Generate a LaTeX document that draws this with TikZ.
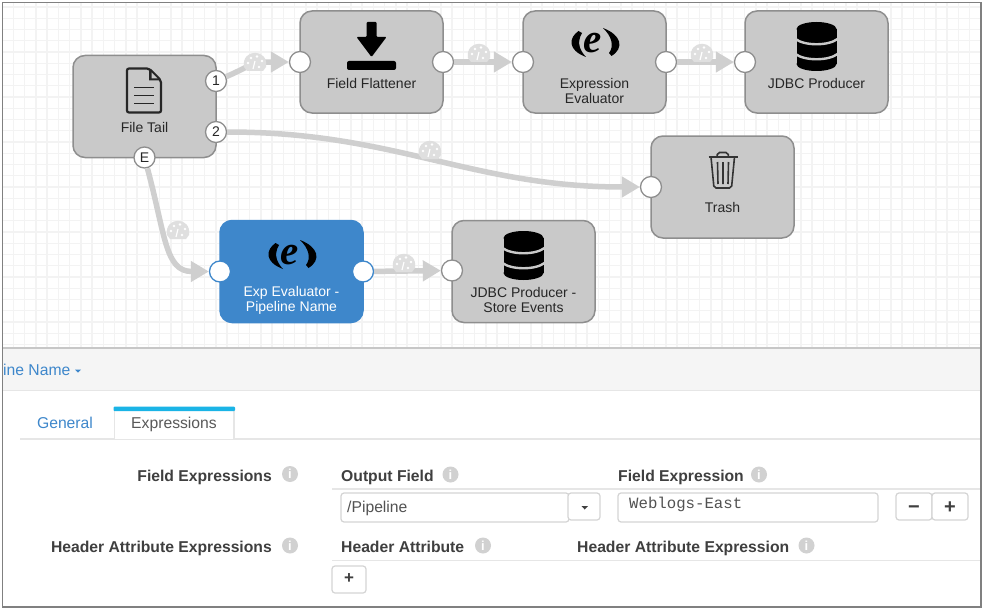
\documentclass[tikz,border=0pt]{standalone}
\usepackage{fontspec}
\setmainfont{Liberation Sans}
\newfontfamily\codefont{Liberation Mono}
\newfontfamily\logofont{Liberation Serif}
\usepackage{xcolor}
\usepackage{tikz}
\usetikzlibrary{positioning,arrows.meta}
\definecolor{stagegray}{HTML}{C9C9C9}
\definecolor{stageline}{HTML}{8E8E8E}
\definecolor{linkgray}{HTML}{CFCFCF}
\definecolor{gaugegray}{HTML}{DFDFDF}
\definecolor{selblue}{HTML}{3E87CB}
\definecolor{tabcyan}{HTML}{1AB4E6}
\definecolor{gridgray}{HTML}{F3F3F3}
\definecolor{rulegray}{HTML}{E6E6E6}
\definecolor{bandgray}{HTML}{F5F5F5}
\definecolor{inkgray}{HTML}{3F3F3F}
\definecolor{fieldline}{HTML}{D4D4D4}
\newcommand{\stagefont}{\fontsize{14}{15}\selectfont}
\newcommand{\formfont}{\fontsize{15.7}{17}\selectfont}
\tikzset{
  docicon/.pic={
    \draw[line width=2.2,rounded corners=2,draw=black!85] (-17,-22) -- (5,-22) -- (17,-10) -- (17,22) -- (-17,22) -- cycle;
    \fill[black!85] (5,-22) -- (17,-10) -- (5,-10) -- cycle;
    \fill[stagegray] (7.5,-18) -- (13.5,-12) -- (7.5,-12) -- cycle;
    \draw[line width=1.8,draw=black!85] (-10,-3) -- (10,-3) (-10,5) -- (10,5) (-10,13) -- (10,13);
  },
  downicon/.pic={
    \fill[rounded corners=1] (-5,-24) -- (5,-24) -- (5,-9) -- (15,-9) -- (0,11) -- (-15,-9) -- (-5,-9) -- cycle;
    \fill[rounded corners=2] (-24.5,15) rectangle (24.5,24);
  },
  dbicon/.pic={
    \fill (0,-17) ellipse[x radius=20,y radius=7];
    \fill (0,18) ellipse[x radius=20,y radius=7];
    \fill (-20,-17) rectangle (20,18);
    \draw[line width=2.4,draw=stagegray] (-21,-7) .. controls (-12,0) and (12,0) .. (21,-7);
    \draw[line width=2.4,draw=stagegray] (-21,8) .. controls (-12,15) and (12,15) .. (21,8);
  },
  trashicon/.pic={
    \draw[line width=1.6,draw=black!80,line join=round] (-14,-14) -- (15,-14);
    \draw[line width=1.6,draw=black!80,rounded corners=2] (-5.5,-14) -- (-5,-18.5) -- (5.5,-18.5) -- (6,-14);
    \draw[line width=1.6,draw=black!80,rounded corners=2] (-11.5,-14) -- (-8.5,17) -- (9,17) -- (12,-14);
    \draw[line width=1.6,draw=black!80] (-5,-9) -- (-4.5,13) (.5,-9) -- (.5,13) (6,-9) -- (5.5,13);
  },
  evalicon/.pic={
    \fill (-16,-13) .. controls (-26,-6) and (-27,6) .. (-8.5,13) .. controls (-13,8) and (-19,0) .. (-12.5,-11) -- cycle;
    \fill (8.5,-16) .. controls (27,-9) and (30,4) .. (17,12) -- (14.5,9) .. controls (20,2) and (17,-8) .. cycle;
    \node[font=\logofont\bfseries\itshape\fontsize{41}{41}\selectfont,inner sep=0] (letter) at (-1.5,-1) {e};
  },
  gaugeicon/.pic={
    \fill[gaugegray] (-11,4) .. controls (-14,-15) and (14,-15) .. (11,4) -- (8,8) -- (-8,8) -- cycle;
    \fill[white] (-7,0) circle[radius=1.4] (-4,-5) circle[radius=1.4] (2,-6.5) circle[radius=1.4] (7,-2) circle[radius=1.4] (4,4) circle[radius=1.4];
    \draw[white,line width=1.2] (-2,6) -- (0,-2);
  },
}
\begin{document}
\begin{tikzpicture}[x=1pt,y=-1pt,line cap=butt,node distance=80pt and 80pt]
\tikzstyle{stage}=[draw=stageline,fill=stagegray,line width=1.5,rounded corners=12,minimum width=143pt,minimum height=102pt,outer sep=0pt,inner sep=0pt]
\tikzstyle{selstage}=[stage,draw=selblue,fill=selblue]
\tikzstyle{stagetext}=[font=\stagefont,align=center,text=black!85,inner sep=0pt]
\tikzstyle{port}=[circle,draw=stageline,fill=white,line width=1.3,minimum size=21pt,inner sep=0pt,font=\stagefont,text=black!85]
\tikzstyle{selport}=[port,draw=selblue]
\tikzstyle{link}=[draw=linkgray,line width=5.5,-{Triangle[length=18pt,width=20pt]}]
\tikzstyle{gridline}=[draw=gridgray,line width=1.4]
\tikzstyle{formtext}=[font=\formfont,inner sep=0pt,text height=11.3pt,text depth=3.3pt]
\tikzstyle{formbold}=[formtext,font=\formfont\bfseries,text=inkgray]
\tikzstyle{infoicon}=[circle,fill=black!18,text=white,minimum size=16pt,inner sep=0pt,font=\fontsize{13}{13}\selectfont\bfseries]
\tikzstyle{field}=[draw=fieldline,line width=1.2,rounded corners=3,fill=white,inner sep=0pt,outer sep=0pt]
\tikzstyle{btnsign}=[font=\fontsize{20}{20}\selectfont\bfseries,text=inkgray,text height=14pt,text depth=0pt]
\tikzstyle{rule}=[draw=rulegray,line width=1.4]
\useasboundingbox (0,0) rectangle (983,610);
\fill[white] (0,0) rectangle (983,610);
% canvas grid
\foreach \gx in {13.3,24.55,...,981} \draw[gridline] (\gx,3) -- (\gx,348);
\foreach \gy in {7,18.25,...,348} \draw[gridline] (3,\gy) -- (981,\gy);
% stages
\node[stage] (ft) at (144.5,106.5) {};
\node[stage] (ff) at (371.5,62) {};
\node[stage,right=of ff] (ee) {};
\node[stage,right=79pt of ee] (jp) {};
\node[stage] (tr) at (722.5,187) {};
\node[selstage] (xe) at (291.5,271.5) {};
\node[stage,right=89pt of xe] (js) {};
% icons
\pic at (144,90.5) {docicon};
\pic at (371.5,46) {downicon};
\pic (eelogo) at (594.5,44) {evalicon};
\pic at (816.5,46) {dbicon};
\pic at (722.5,171) {trashicon};
\pic (xelogo) at (291.5,256) {evalicon};
\pic at (523.5,255) {dbicon};
% labels
\node[stagetext] (ftlabel) at ([yshift=-20.5pt]ft.center) {File Tail};
\node[stagetext] (fflabel) at ([yshift=-21pt]ff.center) {Field Flattener};
\node[stagetext] (eelabel) at ([yshift=-28.5pt]ee.center) {Expression\\Evaluator};
\node[stagetext] (jplabel) at ([yshift=-21pt]jp.center) {JDBC Producer};
\node[stagetext] (trlabel) at ([yshift=-20pt]tr.center) {Trash};
\node[stagetext,text=white] (xelabel) at ([yshift=-28.5pt]xe.center) {Exp Evaluator -\\Pipeline Name};
\node[stagetext] (jslabel) at ([yshift=-28.5pt]js.center) {JDBC Producer -\\Store Events};
% ports
\node[port] (ftone) at ([yshift=25.5pt]ft.east) {1};
\node[port] (fttwo) at ([yshift=-25.5pt]ft.east) {2};
\node[port] (fterr) at (ft.south) {E};
\node[port] (ffin) at (ff.west) {};
\node[port] (ffout) at (ff.east) {};
\node[port] (eein) at (ee.west) {};
\node[port] (eeout) at (ee.east) {};
\node[port] (jpin) at (jp.west) {};
\node[port] (trin) at (tr.west) {};
\node[selport] (xein) at (xe.west) {};
\node[selport] (xeout) at (xe.east) {};
\node[port] (jsin) at ([yshift=1pt]js.west) {};
% links
\draw[link] (ftone) .. controls +(35,-15) and +(-50,0) .. (ffin);
\draw[link] (ffout) -- (eein);
\draw[link] (eeout) -- (jpin);
\draw[link] (fttwo) .. controls +(180,0) and +(-180,0) .. (trin);
\draw[link] (fterr) .. controls +(21,78) and +(-55,0) .. (xein);
\draw[link] (xeout) -- (jsin);
\pic at (255,63) {gaugeicon};
\pic at (479,54) {gaugeicon};
\pic at (702,54) {gaugeicon};
\pic at (430,151) {gaugeicon};
\pic at (178,231) {gaugeicon};
\pic at (404,264) {gaugeicon};
% panel
\fill[bandgray] (3,348) rectangle (981,390);
\draw[draw=black!22,line width=1.6] (3,348) -- (981,348);
\draw[rule] (3,390.5) -- (981,390.5);
\node[formtext,text=selblue,anchor=west] (stagename) at (3,371) {ine Name};
\fill[selblue] (75,369.5) -- (81,369.5) -- (78,372.5) -- cycle;
% tabs
\draw[rule] (20,439) -- (981,439);
\draw[rule,fill=white] (114.5,439) -- (114.5,408) -- (234,408) -- (234,439);
\fill[tabcyan,rounded corners=1] (113.5,406.5) rectangle (235,411);
\node[formtext,text=selblue] (generaltab) at (65,424) {General};
\node[formtext,text=black!65] (exprtab) at (174,424) {Expressions};
% form
\node[formbold,anchor=east] (fieldexprs) at (272,477) {Field Expressions};
\node[infoicon] (fieldinfo) at (290,474) {i};
\node[formbold,anchor=west] (outfield) at (341,477) {Output Field};
\node[infoicon] (outinfo) at (450.5,474.5) {i};
\node[formbold,anchor=west] (fieldexpr) at (618,477) {Field Expression};
\node[infoicon] (exprinfo) at (759,474.5) {i};
\draw[rule] (332,489) -- (981,489);
\node[field,minimum width=228pt,minimum height=29pt,anchor=north west] (pathbox) at (341,493) {};
\node[formtext,text=black!68,anchor=west] (pathtext) at (347,508) {/Pipeline};
\node[field,minimum width=32pt,minimum height=27pt,anchor=north west] (dropbtn) at (568,493) {};
\fill[black!75] (581.5,506) -- (588,506) -- (584.7,509.5) -- cycle;
\node[field,minimum width=260pt,minimum height=29pt,anchor=north west] (exprbox) at (618,493) {};
\node[font=\codefont\fontsize{15.7}{16}\selectfont,text=black!68,anchor=west,inner sep=0pt] (exprtext) at (629,504) {Weblogs-East};
\node[field,btnsign,minimum width=36pt,minimum height=27pt,anchor=north west] (minusbtn) at (896,493) {−};
\node[field,btnsign,minimum width=36pt,minimum height=27pt,anchor=north west] (plusbtn) at (932,493) {+};
\node[formbold,anchor=east] (headerexprs) at (272,548) {Header Attribute Expressions};
\node[infoicon] (headerinfo) at (290,545.5) {i};
\node[formbold,anchor=west] (headerattr) at (341,548) {Header Attribute};
\node[infoicon] (attrinfo) at (483,545.5) {i};
\node[formbold,anchor=west] (headerexpr) at (577,548) {Header Attribute Expression};
\node[infoicon] (hexprinfo) at (806.5,545.5) {i};
\draw[rule] (332,560.5) -- (981,560.5);
\node[field,btnsign,font=\fontsize{17}{17}\selectfont\bfseries,text height=10pt,text depth=2pt,minimum width=34pt,minimum height=27pt,anchor=north west] (addbtn) at (332,566) {+};
% frame
\draw[draw=black!50,line width=1.5] (2.5,2.5) rectangle (981,607);
\end{tikzpicture}
\end{document}
